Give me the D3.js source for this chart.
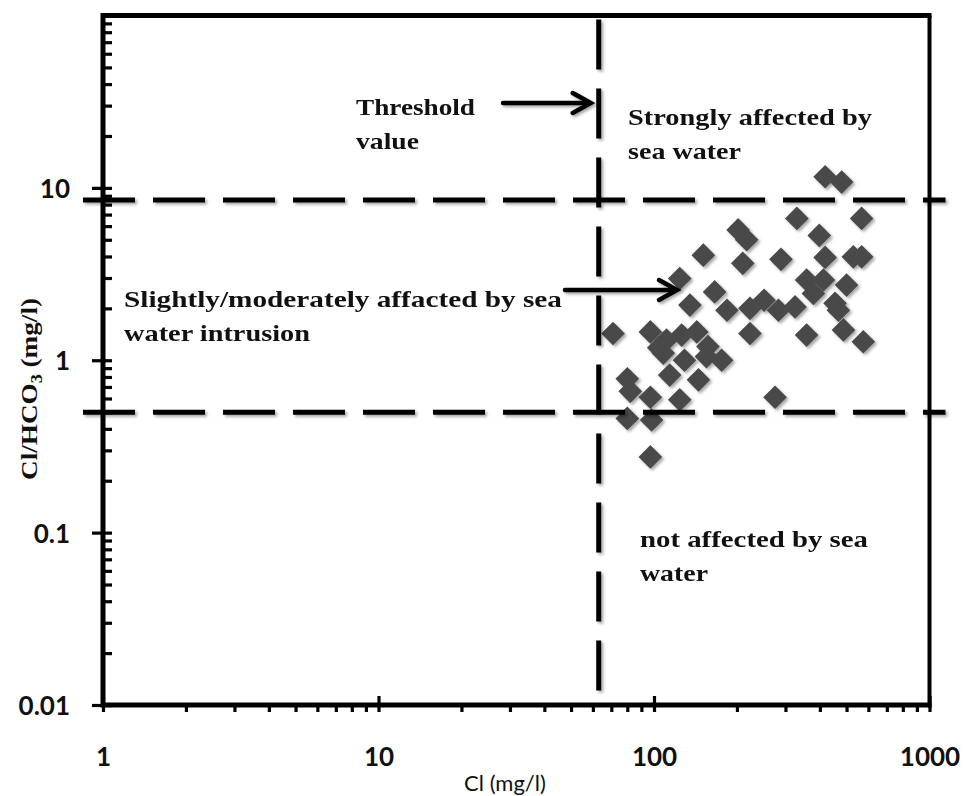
<!DOCTYPE html>
<html>
<head>
<meta charset="utf-8">
<title>Cl vs Cl/HCO3</title>
<style>
  body { margin: 0; background: #fff; }
  svg { display: block; }
</style>
</head>
<body>
<script src="https://cdn.jsdelivr.net/npm/d3@7/dist/d3.min.js"></script>
<script>
// chloride (mg/l) and Cl/HCO3 ratio
var clValues = [418, 480, 330, 567, 202, 217, 398, 151, 210, 289, 418, 529, 567,
                124, 358, 412, 500, 166, 135, 184, 223, 251, 283, 325, 379, 454, 467,
                71, 97, 111, 126, 143, 157, 176, 108, 223, 358, 487, 575,
                80, 114, 145, 82, 97, 124, 275, 80, 98, 97, 155, 104, 129];
var ratioValues = [11.6, 10.8, 6.65, 6.65, 5.7, 5.0, 5.3, 4.07, 3.65, 3.85, 3.95, 3.98, 3.98,
                   2.98, 2.92, 2.92, 2.73, 2.49, 2.09, 1.95, 2.0, 2.23, 1.95, 2.04, 2.44, 2.14, 1.95,
                   1.43, 1.46, 1.31, 1.40, 1.46, 1.20, 1.0, 1.1, 1.43, 1.40, 1.50, 1.28,
                   0.78, 0.82, 0.77, 0.66, 0.61, 0.59, 0.61, 0.46, 0.45, 0.275, 1.05, 1.18, 1.0];

var xTickLabels = ["1", "10", "100", "1000"];
var yTickLabels = ["0.01", "0.1", "1", "10"];
var clThreshold = 63;
var ratioLimits = [0.5, 8.5];

var textThreshold = ["Threshold", "value"];
var textStrong = ["Strongly affected  by", "sea water"];
var textSlight = ["Slightly/moderately affacted by  sea", "water intrusion"];
var textNot = ["not affected by  sea", "water"];

var width = 965, height = 796;
var plotL = 103, plotR = 929.5, plotT = 15.5, plotB = 705;

var svg = d3.select("body").append("svg")
    .attr("width", width)
    .attr("height", height);

var defs = svg.append("defs");
var f = defs.append("filter").attr("id", "shadow")
    .attr("x", "-30%").attr("y", "-30%").attr("width", "160%").attr("height", "160%");
f.append("feDropShadow").attr("dx", 2).attr("dy", 2)
    .attr("stdDeviation", 1.6).attr("flood-color", "#000").attr("flood-opacity", 0.35);

var x = d3.scaleLog().domain([1, 1000]).range([plotL, plotR]);
var y = d3.scaleLog().domain([0.01, 100]).range([plotB, plotT]);

var serif = "'Liberation Serif', 'Times New Roman', serif";
var sans = "Lato, 'Open Sans', sans-serif";

// minor ticks: y inside, x outside
var yMinor = svg.append("g")
    .attr("transform", "translate(" + plotL + ",0)")
    .call(d3.axisRight(y).tickValues(y.ticks()).tickSize(9).tickFormat(""));
var yMajor = svg.append("g")
    .attr("transform", "translate(" + plotL + ",0)")
    .call(d3.axisLeft(y).tickValues(yTickLabels.map(Number)).tickSize(11).tickPadding(22)
          .tickFormat(function(d, i) { return yTickLabels[i]; }));
var xMinor = svg.append("g")
    .attr("transform", "translate(0," + plotB + ")")
    .call(d3.axisBottom(x).tickValues(x.ticks()).tickSize(7).tickPadding(36)
          .tickFormat(function(d) {
              var i = xTickLabels.indexOf(String(d));
              return i < 0 ? "" : xTickLabels[i];
          }));
var xMajor = svg.append("g")
    .attr("transform", "translate(0," + plotB + ")")
    .call(d3.axisTop(x).tickValues(xTickLabels.map(Number)).tickSize(9).tickFormat(""));

[yMinor, yMajor, xMinor, xMajor].forEach(function(g) {
    g.select(".domain").remove();
    g.selectAll(".tick line").attr("stroke", "#000").attr("stroke-width", 3.2);
    g.selectAll(".tick text")
        .attr("fill", "#111")
        .style("font-family", sans)
        .style("font-weight", "700")
        .style("font-size", "26px");
});
yMajor.selectAll(".tick text").attr("dy", "0.36em");

// frame
svg.append("line").attr("x1", plotL).attr("x2", plotL).attr("y1", plotT - 2.5).attr("y2", plotB + 2.5)
    .attr("stroke", "#000").attr("stroke-width", 5);
svg.append("line").attr("x1", plotL).attr("x2", plotR + 2).attr("y1", plotB).attr("y2", plotB)
    .attr("stroke", "#000").attr("stroke-width", 5);
svg.append("line").attr("x1", plotL).attr("x2", plotR + 2).attr("y1", plotT).attr("y2", plotT)
    .attr("stroke", "#000").attr("stroke-width", 5);
svg.append("line").attr("x1", plotR).attr("x2", plotR).attr("y1", plotT).attr("y2", plotB + 2.5)
    .attr("stroke", "#000").attr("stroke-width", 4);

// points
var diamond = d3.symbol().type(d3.symbolSquare).size(280);
svg.append("g").attr("filter", "url(#shadow)")
    .selectAll("path")
    .data(clValues.map(function(c, i) { return [c, ratioValues[i]]; }))
    .enter().append("path")
    .attr("d", diamond)
    .attr("transform", function(d) {
        return "translate(" + x(d[0]) + "," + y(d[1]) + ") rotate(45)";
    })
    .attr("fill", "#4a4a4a");

// dashed threshold lines
var dash = svg.append("g").attr("filter", "url(#shadow)");
ratioLimits.forEach(function(v) {
    dash.append("line")
        .attr("x1", plotL - 20).attr("x2", plotR + 16)
        .attr("y1", y(v)).attr("y2", y(v))
        .attr("stroke", "#000").attr("stroke-width", 5)
        .attr("stroke-dasharray", "52,18");
});
dash.append("line")
    .attr("x1", x(clThreshold)).attr("x2", x(clThreshold))
    .attr("y1", plotT + 4).attr("y2", plotB - 6)
    .attr("stroke", "#000").attr("stroke-width", 5)
    .attr("stroke-dasharray", "50,19");

// arrows
function arrow(x1, x2, yy) {
    var g = svg.append("g").attr("filter", "url(#shadow)")
        .attr("stroke", "#000").attr("stroke-width", 4.5).attr("fill", "none")
        .attr("stroke-linecap", "round");
    g.append("line").attr("x1", x1).attr("x2", x2 - 2).attr("y1", yy).attr("y2", yy);
    g.append("path").attr("d", "M" + (x2 - 18) + "," + (yy - 10) + "L" + x2 + "," + yy + "L" + (x2 - 18) + "," + (yy + 10));
}
arrow(503, x(clThreshold) - 8, 103);
arrow(565, 677, 290);

// annotations
function note(lines, x0, y0, lens) {
    lines.forEach(function(t, i) {
        svg.append("text")
            .attr("x", x0).attr("y", y0 + i * 34)
            .attr("textLength", lens[i]).attr("lengthAdjust", "spacingAndGlyphs")
            .style("font-family", serif).style("font-weight", "700").style("font-size", "23px")
            .attr("fill", "#111")
            .text(t);
    });
}
note(textThreshold, 356, 115, [119, 63]);
note(textStrong, 628, 125, [244, 113]);
note(textSlight, 124, 307, [438, 186]);
note(textNot, 640, 547, [228, 68]);

// axis titles
var yt = svg.append("text")
    .attr("transform", "translate(37,389) rotate(-90)")
    .attr("text-anchor", "middle")
    .attr("textLength", 182).attr("lengthAdjust", "spacingAndGlyphs")
    .style("font-family", serif).style("font-weight", "700").style("font-size", "24px")
    .attr("fill", "#111");
yt.append("tspan").text("Cl/HCO");
yt.append("tspan").attr("dy", 5).style("font-size", "16px").text("3");
yt.append("tspan").attr("dy", -5).text(" (mg/l)");

svg.append("text")
    .attr("x", 505).attr("y", 791)
    .attr("text-anchor", "middle")
    .style("font-family", sans).style("font-size", "22px")
    .attr("fill", "#111")
    .text("Cl (mg/l)");
</script>
</body>
</html>
